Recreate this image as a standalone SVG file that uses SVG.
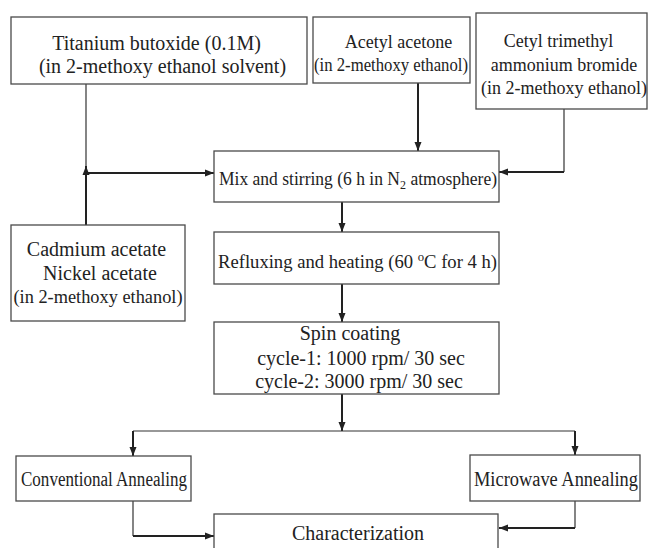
<svg xmlns="http://www.w3.org/2000/svg" width="648" height="548" viewBox="0 0 648 548" font-family="'Liberation Serif', 'Times New Roman', 'DejaVu Serif', serif">
<style>
.box{fill:#fff;stroke:#4a4a4a;stroke-width:1.3}
text{font-family:'Liberation Serif','Times New Roman','DejaVu Serif',serif;fill:#222;text-anchor:middle}
.thick{fill:none;stroke:#222;stroke-width:2}
.thin{fill:none;stroke:#333;stroke-width:1.2}
</style>
<defs>
<marker id="ah" markerUnits="userSpaceOnUse" markerWidth="10" markerHeight="8" refX="9" refY="4" orient="auto">
<path d="M0,0.5 L9,4 L0,7.5 Z" fill="#222"/>
</marker>
</defs>
<rect width="648" height="548" fill="#fff"/>
<g id="connectors">
<path class="thin" d="M86,84 V173"/>
<path class="thick" d="M86,225 V166" marker-end="url(#ah)"/>
<path class="thick" d="M86,173 H214" marker-end="url(#ah)"/>
<path class="thick" d="M418,83 V151" marker-end="url(#ah)"/>
<path class="thin" d="M564,109 V172"/>
<path class="thick" d="M564,172 H499" marker-end="url(#ah)"/>
<path class="thick" d="M342,202 V232" marker-end="url(#ah)"/>
<path class="thick" d="M342,284 V322" marker-end="url(#ah)"/>
<path class="thick" d="M342,394 V431" marker-end="url(#ah)"/>
<path class="thin" d="M133,431 H575"/>
<path class="thick" d="M133,431 V456" marker-end="url(#ah)"/>
<path class="thick" d="M575,431 V455" marker-end="url(#ah)"/>
<path class="thin" d="M133,501 V536"/>
<path class="thick" d="M133,536 H214" marker-end="url(#ah)"/>
<path class="thin" d="M575,501 V528"/>
<path class="thick" d="M575,528 H499" marker-end="url(#ah)"/>
</g>
<g id="titanium">
<rect class="box" x="11" y="17" width="296" height="67"/>
<text x="156.5" y="50" font-size="20">Titanium butoxide (0.1M)</text>
<text x="162.5" y="73" font-size="20">(in 2-methoxy ethanol solvent)</text>
</g>
<g id="acetyl">
<rect class="box" x="313" y="17" width="157" height="66"/>
<text x="398.5" y="47.5" font-size="18">Acetyl acetone</text>
<text x="391" y="71" font-size="18" textLength="154" lengthAdjust="spacingAndGlyphs">(in  2-methoxy ethanol)</text>
</g>
<g id="cetyl">
<rect class="box" x="476" y="13" width="171" height="96"/>
<text x="558.5" y="47" font-size="18">Cetyl trimethyl</text>
<text x="564" y="71" font-size="18">ammonium bromide</text>
<text x="564" y="94" font-size="18">(in 2-methoxy ethanol)</text>
</g>
<g id="cadmium">
<rect class="box" x="11" y="225" width="174" height="96"/>
<text x="96.5" y="256" font-size="20">Cadmium acetate</text>
<text x="100" y="279.5" font-size="20">Nickel acetate</text>
<text x="98" y="303" font-size="19" textLength="169" lengthAdjust="spacingAndGlyphs">(in  2-methoxy ethanol)</text>
</g>
<g id="mix">
<rect class="box" x="214" y="151" width="285" height="51"/>
<text x="358" y="184.5" font-size="19" textLength="278" lengthAdjust="spacingAndGlyphs">Mix and stirring (6 h in N<tspan font-size="13" dy="4">2</tspan><tspan dy="-4"> atmosphere)</tspan></text>
</g>
<g id="reflux">
<rect class="box" x="214" y="232" width="285" height="52"/>
<text x="357.5" y="267.5" font-size="19" textLength="279" lengthAdjust="spacingAndGlyphs">Refluxing and heating (60 <tspan font-size="13" dy="-7">o</tspan><tspan dy="7">C for 4 h)</tspan></text>
</g>
<g id="spin">
<rect class="box" x="214" y="322" width="285" height="72"/>
<text x="350" y="339.5" font-size="20">Spin coating</text>
<text x="361" y="365" font-size="20">cycle-1: 1000 rpm/ 30 sec</text>
<text x="359" y="388" font-size="20">cycle-2: 3000 rpm/ 30 sec</text>
</g>
<g id="conventional">
<rect class="box" x="16" y="456" width="175" height="45"/>
<text x="104" y="486" font-size="20" textLength="166" lengthAdjust="spacingAndGlyphs">Conventional Annealing</text>
</g>
<g id="microwave">
<rect class="box" x="470" y="455" width="170" height="46"/>
<text x="556" y="486" font-size="20" textLength="164" lengthAdjust="spacingAndGlyphs">Microwave Annealing</text>
</g>
<g id="characterization">
<rect class="box" x="214" y="514" width="284" height="44"/>
<text x="358" y="539.5" font-size="20">Characterization</text>
</g>
</svg>
